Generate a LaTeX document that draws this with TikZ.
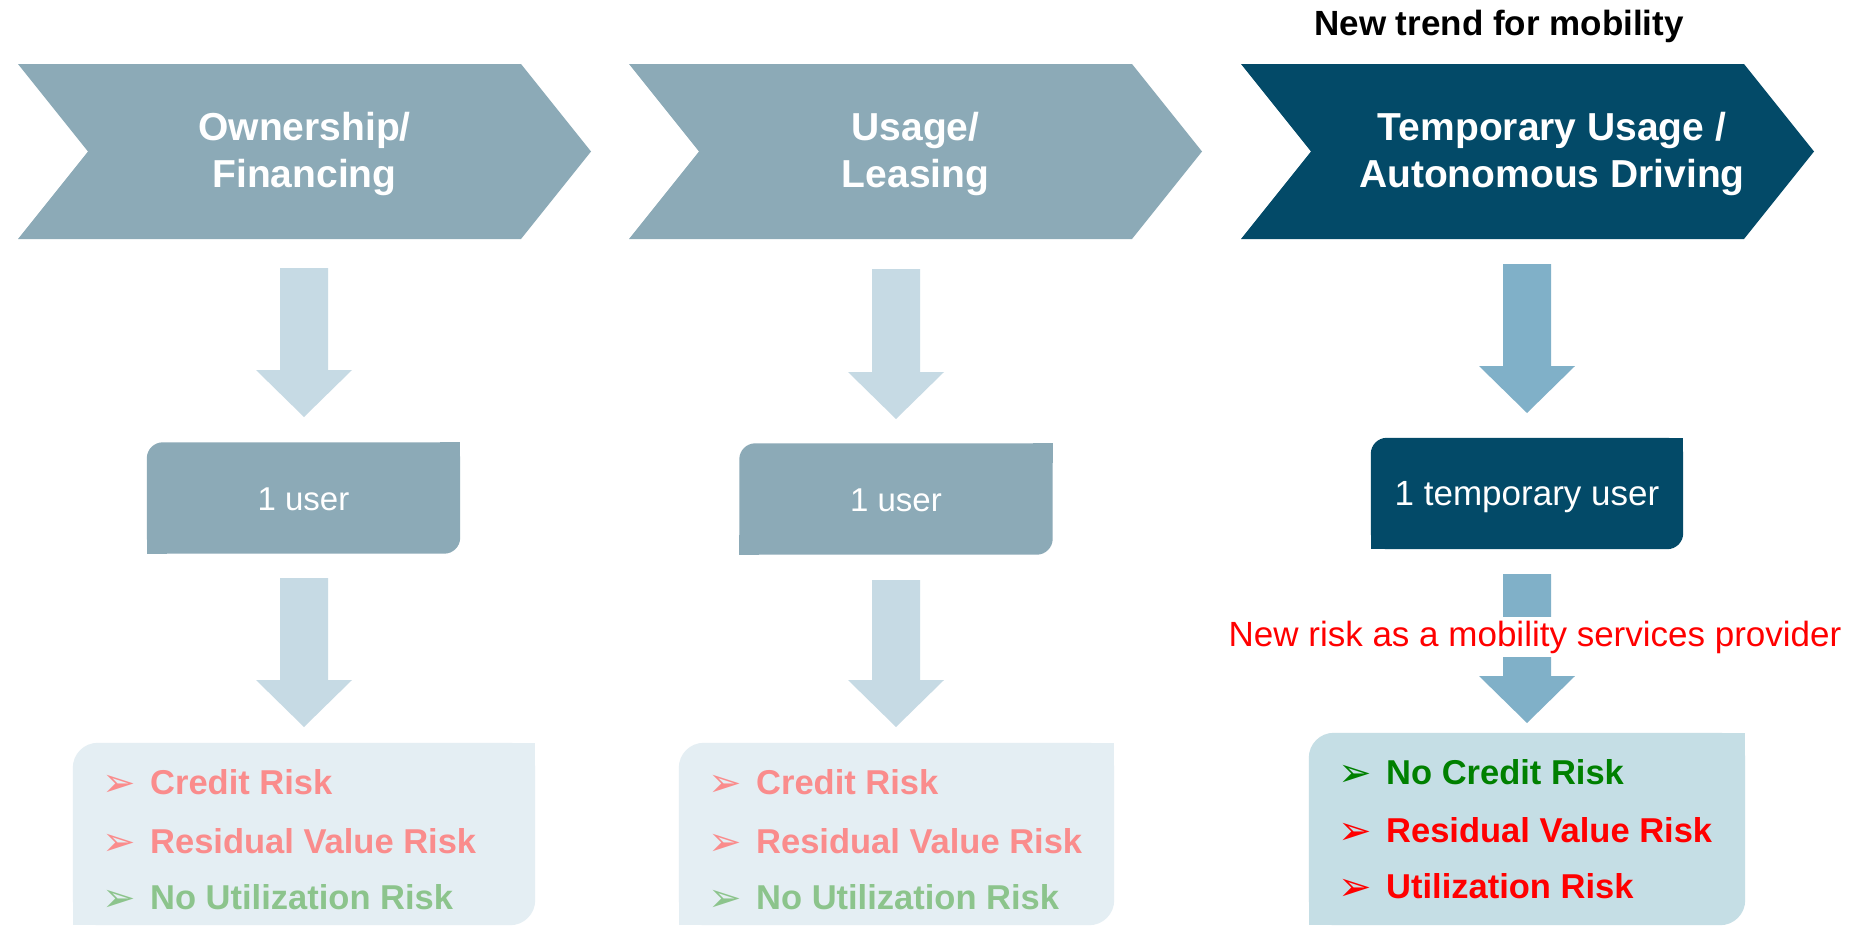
\documentclass[tikz,border=0pt]{standalone}
\usepackage{fontspec}
\setmainfont{Liberation Sans}
\newfontfamily\dejavu{DejaVu Sans}
\usetikzlibrary{calc,backgrounds}
\definecolor{chevgray}{RGB}{140,170,183}
\definecolor{darkteal}{RGB}{3,74,104}
\definecolor{lightarrow}{RGB}{198,218,228}
\definecolor{midarrow}{RGB}{128,176,200}
\definecolor{paleboxfill}{RGB}{228,238,243}
\definecolor{riskboxfill}{RGB}{197,222,229}
\definecolor{fadedred}{RGB}{250,140,140}
\definecolor{fadedgreen}{RGB}{140,196,140}
\definecolor{riskgreen}{RGB}{0,128,0}
\definecolor{riskred}{RGB}{255,0,0}
\newcommand\bul{\makebox[48pt][l]{\dejavu\mdseries\fontsize{40}{40}\selectfont\raisebox{-2pt}{➢}}}
\newcommand\blockarrow[3]{%
  \fill[#1] ($(#2)+(-24,0)$) -- ($(#2)+(24,0)$) -- ($(#3)+(24,-47)$) -- ($(#3)+(48,-47)$)
    -- (#3) -- ($(#3)+(-48,-47)$) -- ($(#3)+(-24,-47)$) -- cycle;}
\newcommand\chevronshape[2]{%
  \fill[#1] (#2,64) -- ({#2+503},64) -- ({#2+573},151.5) -- ({#2+503},239) -- (#2,239) -- ({#2+70},151.5) -- cycle;}
\newcommand\cutbox[4]{% color, node, radius, square size
  \fill[#1, rounded corners=#3] (#2.north west) rectangle (#2.south east);
  \fill[#1] (#2.north east) rectangle ++(-#4,#4);
  \fill[#1] (#2.south west) rectangle ++(#4,-#4);}
\tikzset{
  titletext/.style={text=white, font=\fontsize{39}{47}\selectfont\bfseries, align=center, inner sep=0pt},
  trendtext/.style={text=black, font=\fontsize{35}{42}\selectfont\bfseries, anchor=base, inner sep=0pt},
  userbox/.style={minimum width=313pt, minimum height=111pt, inner sep=0pt, text=white,
    text height=24pt, text depth=0pt},
  risktext/.style={anchor=base west, inner sep=0pt, font=\fontsize{34.5}{40}\selectfont\bfseries},
  riskbox/.style={minimum height=182pt, inner sep=0pt}
}
\begin{document}
\begin{tikzpicture}[x=1pt,y=-1pt]
\useasboundingbox (0,0) rectangle (1864,926);

% chevron titles
\node[titletext] (t1) at (304.5,154) {Ownership/\\Financing};
\node[titletext] (t2) at (915.5,154) {Usage/\\Leasing};
\node[titletext] (t3) at (1552,154) {Temporary Usage /\\Autonomous Driving};
\node[trendtext] (trend) at (1499,35) {New trend for mobility};

% user boxes
\node[userbox, font=\fontsize{33}{40}\selectfont] (u1) at (303.5,498) {1 user};
\node[userbox, font=\fontsize{33}{40}\selectfont] (u2) at (896,499) {1 user};
\node[userbox, minimum width=312pt, font=\fontsize{35}{42}\selectfont] (u3) at (1527,493.5) {1 temporary user};

% risk boxes
\node[riskbox, minimum width=462pt] (r1) at (304,834) {};
\node[riskbox, minimum width=435pt] (r2) at (896.5,834) {};
\node[riskbox, minimum width=436pt, minimum height=192pt] (r3) at (1527,829) {};

% arrow end points
\coordinate (a1top) at (304,268);  \coordinate (a1tip) at (304,417);
\coordinate (b1top) at (304,578);  \coordinate (b1tip) at (304,727);
\coordinate (a2top) at (896,269);  \coordinate (a2tip) at (896,419);
\coordinate (b2top) at (896,580);  \coordinate (b2tip) at (896,727);
\coordinate (a3top) at (1527,264); \coordinate (a3tip) at (1527,413);
\coordinate (b3top) at (1527,574); \coordinate (b3tip) at (1527,723);

% risk items
\node[risktext, text=fadedred] (r1a) at (102,794) {\bul Credit Risk};
\node[risktext, text=fadedred] (r1b) at (102,853) {\bul Residual Value Risk};
\node[risktext, text=fadedgreen] (r1c) at (102,909) {\bul No Utilization Risk};
\node[risktext, text=fadedred] (r2a) at (708,794) {\bul Credit Risk};
\node[risktext, text=fadedred] (r2b) at (708,853) {\bul Residual Value Risk};
\node[risktext, text=fadedgreen] (r2c) at (708,909) {\bul No Utilization Risk};
\node[risktext, text=riskgreen] (r3a) at (1338,784) {\bul No Credit Risk};
\node[risktext, text=riskred] (r3b) at (1338,842) {\bul Residual Value Risk};
\node[risktext, text=riskred] (r3c) at (1338,898) {\bul Utilization Risk};

% red label over the third lower arrow
\node[fill=white, text=riskred, font=\fontsize{35}{42}\selectfont, anchor=base,
      inner xsep=2pt, inner ysep=4pt] (newrisk) at (1535,646) {New risk as a mobility services provider};

\begin{scope}[on background layer]
  \fill[white] (0,0) rectangle (1864,926);
  \chevronshape{chevgray}{18}
  \chevronshape{chevgray}{629}
  \chevronshape{darkteal}{1241}
  \cutbox{chevgray}{u1}{16pt}{20}
  \cutbox{chevgray}{u2}{16pt}{20}
  \cutbox{darkteal}{u3}{16pt}{20}
  \cutbox{paleboxfill}{r1}{25pt}{30}
  \cutbox{paleboxfill}{r2}{25pt}{30}
  \cutbox{riskboxfill}{r3}{25pt}{30}
  \blockarrow{lightarrow}{a1top}{a1tip}
  \blockarrow{lightarrow}{b1top}{b1tip}
  \blockarrow{lightarrow}{a2top}{a2tip}
  \blockarrow{lightarrow}{b2top}{b2tip}
  \blockarrow{midarrow}{a3top}{a3tip}
  \blockarrow{midarrow}{b3top}{b3tip}
\end{scope}
\end{tikzpicture}
\end{document}
